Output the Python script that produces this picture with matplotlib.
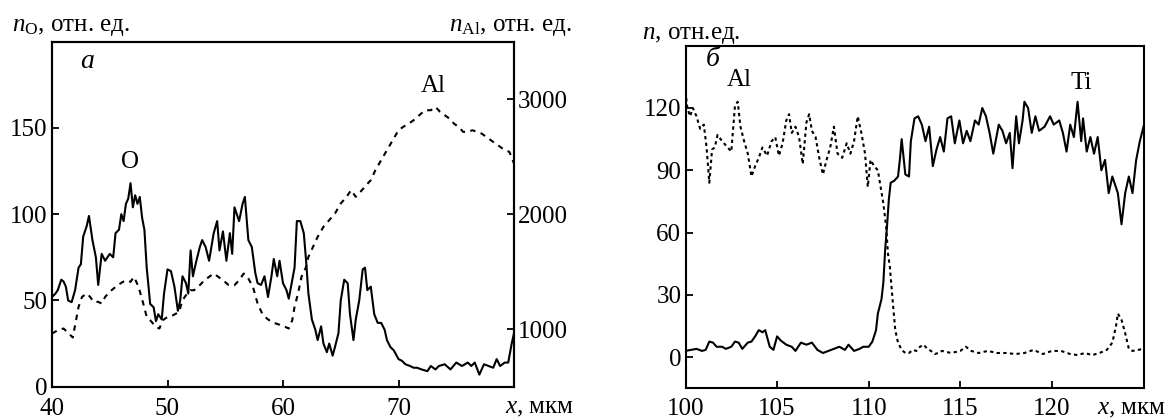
import matplotlib
matplotlib.use("Agg")
import matplotlib.pyplot as plt

plt.rcParams['font.family'] = ['Liberation Serif', 'DejaVu Serif']
plt.rcParams['mathtext.fontset'] = 'custom'
plt.rcParams['mathtext.rm'] = 'Liberation Serif'
plt.rcParams['mathtext.it'] = 'Liberation Serif:italic'

# ---------------- Panel a: O (left axis) ----------------
x_O = [40.0, 40.3, 40.5, 40.8, 41.0, 41.2, 41.4, 41.7, 42.0, 42.3, 42.5, 42.7, 43.0, 43.2, 43.5,
       43.8, 44.0, 44.3, 44.6, 45.0, 45.3, 45.5, 45.8, 46.0, 46.2, 46.4, 46.6, 46.8, 47.0, 47.2,
       47.4, 47.6, 47.8, 48.0, 48.2, 48.5, 48.8, 49.0, 49.2, 49.5, 49.7, 50.0, 50.3, 50.6, 50.9,
       51.1, 51.3, 51.6, 51.8, 52.0, 52.2, 52.5, 52.8, 53.0, 53.3, 53.6, 54.0, 54.3, 54.5, 54.8,
       55.1, 55.4, 55.6, 55.8, 56.0, 56.2, 56.5, 56.7, 57.0, 57.3, 57.6, 57.8, 58.1, 58.4, 58.7,
       59.0, 59.2, 59.5, 59.7, 60.0, 60.3, 60.5, 60.8, 61.0, 61.2, 61.5, 61.8, 62.0, 62.2, 62.5,
       62.8, 63.0, 63.3, 63.5, 63.8, 64.0, 64.3, 64.5, 64.8, 65.0, 65.3, 65.6, 65.8, 66.1, 66.3,
       66.6, 66.9, 67.1, 67.3, 67.6, 67.9, 68.2, 68.5, 68.8, 69.0, 69.3, 69.6, 70.0, 70.3, 70.6,
       71.0, 71.3, 71.6, 72.0, 72.5, 72.8, 73.2, 73.5, 74.0, 74.5, 75.0, 75.5, 76.0, 76.3, 76.6,
       77.0, 77.4, 77.8, 78.2, 78.5, 78.8, 79.2, 79.5, 79.8, 80.0]
n_O = [52, 54, 56, 62, 61, 58, 50, 49, 56, 69, 71, 87, 93, 99, 85,
       75, 59, 77, 73, 77, 75, 89, 91, 100, 96, 106, 109, 118, 104, 111,
       106, 110, 98, 91, 69, 48, 46, 38, 42, 39, 54, 68, 67, 58, 44,
       50, 64, 60, 54, 79, 64, 73, 81, 85, 81, 73, 89, 96, 79, 90,
       73, 89, 77, 104, 100, 96, 106, 110, 85, 81, 66, 60, 59, 64, 52,
       64, 74, 64, 73, 60, 56, 51, 62, 69, 96, 96, 89, 73, 54, 39,
       33, 27, 35, 25, 20, 25, 18, 23, 31, 50, 62, 60, 42, 27, 39,
       50, 68, 69, 56, 58, 42, 37, 37, 33, 27, 23, 21, 16, 15, 13,
       12, 11, 11, 10, 9, 12, 10, 12, 13, 10, 14, 12, 14, 12, 14,
       7, 13, 12, 11, 16, 12, 14, 14, 25, 31]

# ---------------- Panel a: Al (right axis) ----------------
x_Al_a = [40.0, 40.5, 41.0, 41.3, 41.8, 42.0, 42.3, 42.6, 43.0, 43.3, 43.6, 44.0, 44.3, 44.6, 45.0,
          45.5, 46.0, 46.4, 46.8, 47.1, 47.5, 47.9, 48.2, 48.5, 49.0, 49.3, 49.6, 50.0, 50.5, 51.0,
          51.3, 51.7, 52.0, 52.3, 52.8, 53.2, 53.6, 54.0, 54.4, 54.8, 55.3, 55.8, 56.2, 56.6, 57.0,
          57.4, 57.8, 58.2, 58.6, 59.0, 59.4, 59.8, 60.2, 60.5, 60.8, 61.0, 61.3, 61.6, 62.0, 62.2,
          62.6, 63.0, 63.5, 64.0, 64.5, 65.0, 65.5, 65.9, 66.3, 66.7, 67.2, 67.6, 68.0, 68.5, 69.0,
          69.5, 70.0, 70.4, 70.9, 71.3, 71.8, 72.3, 72.8, 73.2, 73.6, 74.0, 74.4, 74.8, 75.2, 75.6,
          76.0, 76.4, 76.8, 77.2, 77.6, 78.0, 78.4, 78.8, 79.2, 79.6, 80.0]
n_Al_a = [962, 991, 1006, 977, 928, 1035, 1194, 1281, 1310, 1281, 1238, 1238, 1223, 1281, 1325,
          1368, 1403, 1426, 1412, 1455, 1368, 1223, 1107, 1078, 1020, 1006, 1078, 1107, 1122, 1151,
          1252, 1310, 1339, 1339, 1383, 1426, 1455, 1484, 1455, 1426, 1383, 1383, 1426, 1484, 1440,
          1368, 1223, 1136, 1093, 1064, 1049, 1035, 1020, 1006, 1078, 1194, 1310, 1455, 1542, 1629,
          1716, 1803, 1890, 1948, 2006, 2093, 2151, 2209, 2151, 2194, 2252, 2296, 2383, 2470, 2557,
          2643, 2730, 2759, 2788, 2817, 2861, 2904, 2904, 2933, 2890, 2861, 2832, 2788, 2759, 2716,
          2716, 2730, 2716, 2701, 2672, 2643, 2614, 2586, 2557, 2542, 2441]

# ---------------- Panel b: Al (dashed) ----------------
x_Al_b = [100.0, 100.1, 100.25, 100.4, 100.6, 100.8, 101.0, 101.15, 101.3, 101.45, 101.6, 101.75,
          102.0, 102.3, 102.5, 102.7, 102.85, 103.0, 103.2, 103.4, 103.6, 103.8, 104.0, 104.2,
          104.45, 104.7, 104.9, 105.1, 105.3, 105.5, 105.65, 105.8, 106.0, 106.2, 106.4, 106.6,
          106.75, 106.9, 107.1, 107.3, 107.5, 107.7, 107.9, 108.1, 108.3, 108.55, 108.8, 109.0,
          109.2, 109.4, 109.6, 109.8, 109.95, 110.1, 110.3, 110.5, 110.65, 110.8, 110.95, 111.05,
          111.15, 111.3, 111.45, 111.6, 111.8, 112.0, 112.2, 112.4, 112.6, 112.8, 113.0, 113.2,
          113.4, 113.6, 113.8, 114.0, 114.5, 115.0, 115.3, 115.6, 116.0, 116.5, 117.0, 117.5,
          118.0, 118.5, 119.0, 119.5, 120.0, 120.5, 121.0, 121.4, 121.8, 122.2, 122.6, 123.0,
          123.3, 123.5, 123.6, 123.8, 124.0, 124.2, 124.4, 124.7, 125.0]
n_Al_b = [128, 120, 116, 120, 116, 110, 112, 101, 84, 100, 101, 107,
          104, 101, 99, 121, 123, 111, 104, 98, 87, 92, 96, 101,
          97, 104, 106, 97, 103, 114, 117, 108, 111, 106, 93, 113,
          117, 109, 106, 96, 88, 95, 101, 111, 98, 96, 103, 98,
          104, 116, 108, 98, 82, 95, 92, 90, 82, 74, 63, 50,
          44, 28, 13, 7, 3.5, 2, 2, 3.5, 3, 5, 6, 4,
          3, 1.5, 2, 3, 2, 3, 5, 3, 2, 3, 2, 2,
          1.5, 2, 3.5, 1.5, 3, 3, 1.5, 1, 2, 1, 2, 3.5,
          7, 15, 21, 18, 11.5, 4, 3, 3.5, 4]

# ---------------- Panel b: Ti (solid) ----------------
x_Ti = [100.0, 100.3, 100.6, 100.9, 101.1, 101.3, 101.5, 101.7, 102.0, 102.2, 102.5, 102.7, 102.9,
        103.1, 103.4, 103.6, 103.8, 104.0, 104.2, 104.35, 104.6, 104.8, 105.0, 105.2, 105.5, 105.8,
        106.0, 106.3, 106.6, 106.9, 107.2, 107.5, 107.8, 108.1, 108.4, 108.7, 108.9, 109.2, 109.5,
        109.7, 110.0, 110.2, 110.4, 110.5, 110.7, 110.8, 110.9, 111.0, 111.1, 111.2, 111.4, 111.6,
        111.7, 111.8, 112.0, 112.2, 112.3, 112.5, 112.7, 112.9, 113.1, 113.3, 113.5, 113.7, 113.9,
        114.1, 114.3, 114.5, 114.7, 114.95, 115.15, 115.35, 115.55, 115.8, 116.0, 116.2, 116.4,
        116.6, 116.8, 117.1, 117.3, 117.5, 117.7, 117.85, 118.05, 118.2, 118.4, 118.5, 118.7,
        118.9, 119.1, 119.3, 119.6, 119.9, 120.1, 120.4, 120.6, 120.8, 121.0, 121.2, 121.4, 121.6,
        121.7, 121.9, 122.1, 122.3, 122.5, 122.7, 122.9, 123.1, 123.3, 123.6, 123.8, 124.0, 124.2,
        124.4, 124.6, 124.8, 125.0]
n_Ti = [3, 3.5, 4, 3, 3.5, 7.5, 7, 5, 5, 4, 5, 7.5, 7,
        4, 7, 7.5, 10, 13, 12, 13, 5, 3.5, 10, 8, 6, 5,
        3, 7, 6, 7, 3.5, 2, 3, 4, 5, 3.5, 6, 3, 4,
        5, 5, 7.5, 13, 21, 28, 36, 52, 63, 76, 84, 85, 87,
        95, 105, 88, 87, 104, 115, 116, 112, 104, 111, 92, 100, 106,
        99, 115, 116, 103, 114, 103, 109, 104, 114, 112, 120, 116,
        108, 98, 112, 109, 103, 108, 91, 116, 103, 114, 123, 120,
        108, 116, 109, 111, 116, 112, 114, 108, 99, 112, 106, 123, 104,
        115, 99, 106, 98, 106, 90, 95, 79, 87, 79, 64, 79, 87,
        79, 95, 104, 111]

W, H = 1166, 420
fig = plt.figure(figsize=(W / 100, H / 100), dpi=100)

FS = 18
LW = 1.5

def style(ax):
    for s in ax.spines.values():
        s.set_linewidth(LW)
    ax.tick_params(direction='in', length=5, width=1.3, labelsize=FS, pad=3)

# ---- panel a ----
ax1 = fig.add_axes([52 / W, 1 - 386.7 / H, 462 / W, 345 / H])
ax1.plot(x_O, n_O, color='black', lw=LW, solid_joinstyle='round')
ax1.set_xlim(40, 80)
ax1.set_ylim(0, 200)
ax1.set_xticks([40, 50, 60, 70])
ax1.set_yticks([0, 50, 100, 150])
style(ax1)
ax1.tick_params(axis='x', pad=8)

ax2 = ax1.twinx()
ax2.plot(x_Al_a, n_Al_a, color='black', lw=LW, dashes=(2.6, 2.6))
ax2.set_ylim(500, 3500)
ax2.set_yticks([1000, 2000, 3000])
style(ax2)

fig.text(12 / W, 1 - 27 / H, r'$n_{\mathrm{O}}$, отн. ед.', fontsize=FS, ha='left', va='center')
fig.text(572 / W, 1 - 27 / H, r'$n_{\mathrm{Al}}$, отн. ед.', fontsize=FS, ha='right', va='center')
fig.text(87 / W, 1 - 62 / H, 'а', fontsize=FS + 2, style='italic', ha='center', va='center')
fig.text(130 / W, 1 - 162 / H, 'O', fontsize=FS, ha='center', va='center')
fig.text(433 / W, 1 - 86 / H, 'Al', fontsize=FS, ha='center', va='center')
fig.text(574 / W, 1 - 408 / H, r'$x$, мкм', fontsize=FS, ha='right', va='center')

# ---- panel b ----
ax3 = fig.add_axes([685.5 / W, 1 - 388.3 / H, 458 / W, 342.6 / H])
ax3.plot(x_Ti, n_Ti, color='black', lw=LW, solid_joinstyle='round')
ax3.plot(x_Al_b, n_Al_b, color='black', lw=LW, dashes=(1.6, 1.6))
ax3.set_xlim(100, 125)
ax3.set_ylim(-15, 150)
ax3.set_xticks([100, 105, 110, 115, 120])
ax3.set_yticks([0, 30, 60, 90, 120])
style(ax3)
ax3.tick_params(axis='x', pad=7)

fig.text(642 / W, 1 - 35 / H, r'$n$, отн.ед.', fontsize=FS, ha='left', va='center')
fig.text(713 / W, 1 - 60 / H, 'б', fontsize=FS + 2, style='italic', ha='center', va='center')
fig.text(739 / W, 1 - 80 / H, 'Al', fontsize=FS, ha='center', va='center')
fig.text(1081 / W, 1 - 83 / H, 'Ti', fontsize=FS, ha='center', va='center')
fig.text(1166 / W, 1 - 409 / H, r'$x$, мкм', fontsize=FS, ha='right', va='center')

fig.savefig('out.png', dpi=100)
